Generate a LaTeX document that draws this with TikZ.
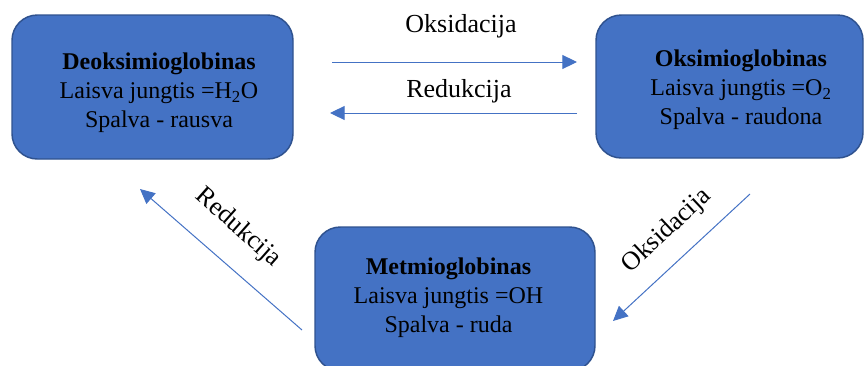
\documentclass[tikz,border=0pt]{standalone}
\usepackage{fontspec}
\setmainfont{Liberation Serif}
\usetikzlibrary{arrows.meta}
\definecolor{boxfill}{RGB}{68,114,196}
\definecolor{boxline}{RGB}{47,82,143}
\tikzset{
  statebox/.style={draw=boxline, line width=1.1pt, fill=boxfill, rounded corners=19pt, inner sep=0pt},
  boxtext/.style={align=center, font=\fontsize{18}{21.75}\selectfont, inner sep=0pt},
  flowarrow/.style={draw=boxfill, line width=0.75pt, -{Triangle[length=11pt,width=10.5pt]}},
  flowlabel/.style={inner sep=0.75pt, font=\fontsize{19.5}{23}\selectfont}
}
\begin{document}
\begin{tikzpicture}[x=0.75pt,y=0.75pt,yscale=-1,xscale=1]
	\useasboundingbox (0,0) rectangle (865,365);

	% Boxes
	\node [statebox, minimum width=210.75pt, minimum height=108pt] (deoksi) at (152.5,87) {};
	\node [statebox, minimum width=200.25pt, minimum height=107.25pt] (oksi) at (729.5,86.5) {};
	\node [statebox, minimum width=210pt, minimum height=108pt] (met) at (455,299) {};

	% Text Node
	\node [boxtext] (deoksiText) at (159,93) {\textbf{Deoksimioglobinas}\\Laisva jungtis =H\textsubscript{2}O\\Spalva - rausva};
	% Text Node
	\node [boxtext] (oksiText) at (741,90) {\textbf{Oksimioglobinas}\\Laisva jungtis =O\textsubscript{2}\\Spalva - raudona};
	% Text Node
	\node [boxtext] (metText) at (448.5,298) {\textbf{Metmioglobinas}\\Laisva jungtis =OH\\Spalva - ruda};

	% Arrow ends
	\coordinate (oxTopStart) at (332,62);
	\coordinate (oxTopEnd) at (577,62);
	\coordinate (redTopStart) at (577,113);
	\coordinate (redTopEnd) at (330,113);
	\coordinate (redLeftStart) at (302,330);
	\coordinate (redLeftEnd) at (140,189);
	\coordinate (oxRightStart) at (750,194);
	\coordinate (oxRightEnd) at (613,321);

	% Straight Lines
	\draw [flowarrow] (oxTopStart) -- (oxTopEnd);
	\draw [flowarrow] (redTopStart) -- (redTopEnd);
	\draw [flowarrow] (redLeftStart) -- (redLeftEnd);
	\draw [flowarrow] (oxRightStart) -- (oxRightEnd);

	% Text Node
	\node [flowlabel] (oxTop) at (461,26) {Oksidacija};
	% Text Node
	\node [flowlabel] (redTop) at (459,91) {Redukcija};
	% Text Node
	\node [flowlabel, rotate=-41.5] (redLeft) at (238,228) {Redukcija};
	% Text Node
	\node [flowlabel, rotate=43] (oxRight) at (667,231) {Oksidacija};
\end{tikzpicture}
\end{document}
